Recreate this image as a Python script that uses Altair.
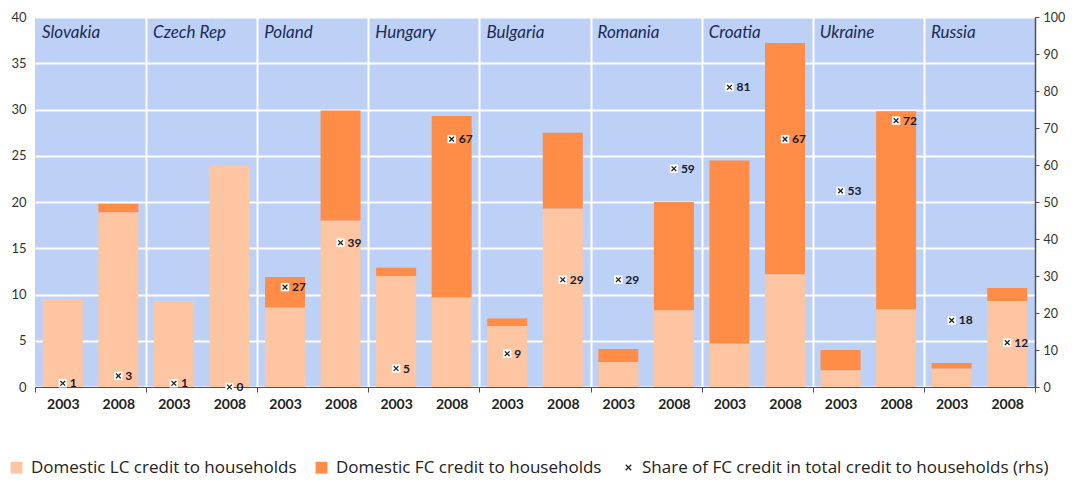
import altair as alt
import pandas as pd

countries = ["Slovakia", "Czech Rep", "Poland", "Hungary", "Bulgaria",
             "Romania", "Croatia", "Ukraine", "Russia"]
years = ["2003", "2008"]
lc_2003 = [9.5, 9.3, 8.6, 12.0, 6.6, 2.7, 4.7, 1.8, 2.0]
fc_2003 = [0.0, 0.0, 3.3, 0.9, 0.8, 1.4, 19.8, 2.2, 0.6]
lc_2008 = [18.9, 24.0, 18.0, 9.7, 19.3, 8.3, 12.2, 8.4, 9.3]
fc_2008 = [0.9, 0.0, 11.9, 19.6, 8.2, 11.7, 25.0, 21.4, 1.4]
share_2003 = [1, 1, 27, 5, 9, 29, 81, 53, 18]
share_2008 = [3, 0, 39, 67, 29, 59, 67, 72, 12]

LC = "Domestic LC credit to households"
FC = "Domestic FC credit to households"
SH = "Share of FC credit in total credit to households (rhs)"

BLUE = "#BDD0F5"
PEACH = "#FDC5A1"
ORANGE = "#FF8C47"
FONT = "Lato"
LFONT = "Open Sans"
CROSS = "M-1,-1L1,1M1,-1L-1,1"

bars, marks = [], []
for i, c in enumerate(countries):
    for j, yr in enumerate(years):
        slot = 2 * i + j
        lc = [lc_2003, lc_2008][j][i]
        fc = [fc_2003, fc_2008][j][i]
        sh = [share_2003, share_2008][j][i]
        bars.append(dict(country=c, year=yr, series=LC, x0=slot + 0.14, x1=slot + 0.86, y0=0, y1=lc))
        bars.append(dict(country=c, year=yr, series=FC, x0=slot + 0.14, x1=slot + 0.86, y0=lc, y1=lc + fc))
        marks.append(dict(country=c, year=yr, xc=slot + 0.5, share=sh, lab=SH, txt=str(sh)))
bars_df = pd.DataFrame(bars)
marks_df = pd.DataFrame(marks)
names_df = pd.DataFrame(dict(country=countries, xl=[2 * i for i in range(len(countries))]))

W, H = 1000, 370
xscale = alt.Scale(domain=[0, 18], nice=False, zero=False)
xvals = [k * 0.5 for k in range(37)]
is_bound = "datum.value % 2 == 0"

x_axis = alt.Axis(
    values=xvals, title=None, grid=True, gridColor="white", gridWidth=2,
    gridOpacity={"condition": {"test": "datum.value % 2 == 0 && datum.value > 0 && datum.value < 18", "value": 1}, "value": 0},
    ticks=True, tickSize=5, tickColor="#4a5060",
    tickOpacity={"condition": {"test": is_bound, "value": 1}, "value": 0},
    domain=True, domainColor="#4a5060", domainWidth=1.2,
    labelExpr="datum.value % 1 == 0 ? '' : (datum.value % 2 < 1 ? '2003' : '2008')",
    labelFont=FONT, labelFontSize=14, labelFontWeight="bold", labelColor="#222",
    labelPadding=5, labelOverlap=False, labelFlush=False,
)
yl_axis = alt.Axis(values=list(range(0, 41, 5)), title=None, grid=True, gridColor="white",
                   gridWidth=2, domain=False, ticks=False, labelPadding=9,
                   labelFont=FONT, labelFontSize=13, labelColor="#333", labelOverlap=False)
r_axis = alt.Axis(orient="right", values=list(range(0, 101, 10)), title=None, grid=False,
                  domain=True, domainColor="#4a5060", domainWidth=1.5, ticks=True, tickSize=4,
                  tickColor="#4a5060", labelPadding=4, labelFont=FONT, labelFontSize=12.5,
                  labelColor="#333", labelOverlap=False)

X = lambda f: alt.X(f, scale=xscale, axis=x_axis, title=None)
yr = alt.Scale(domain=[0, 100], nice=False)
YR = lambda f: alt.Y(f, scale=yr, axis=r_axis, title=None)

bar_layer = alt.Chart(bars_df).mark_bar().encode(
    x=X("x0:Q"),
    x2="x1:Q",
    y=alt.Y("y0:Q", scale=alt.Scale(domain=[0, 40], nice=False), axis=yl_axis, title=None),
    y2="y1:Q",
    color=alt.Color("series:N", scale=alt.Scale(domain=[LC, FC], range=[PEACH, ORANGE]),
                    legend=alt.Legend(orient="none", legendX=-27, legendY=442, direction="horizontal",
                                      title=None, symbolType="square", symbolSize=140,
                                      symbolStrokeWidth=0, labelFont=LFONT, labelFontSize=17,
                                      labelColor="#222", columnPadding=16, labelOffset=6,
                                      padding=0, labelLimit=400)),
)

names_layer = alt.Chart(names_df).mark_text(
    align="left", baseline="alphabetic", dx=7, font=FONT, fontSize=17,
    fontStyle="italic", color="#1b2a5a"
).encode(x=X("xl:Q"), y=alt.value(21), text="country:N")

sq = alt.Chart(marks_df).mark_point(shape="square", filled=True, color="white", opacity=1, size=70).encode(
    x=X("xc:Q"),
    y=YR("share:Q"),
)
cross = alt.Chart(marks_df).mark_point(filled=False, color="#222", strokeWidth=1.3, size=22, opacity=1).encode(
    x=X("xc:Q"),
    y=YR("share:Q"),
    shape=alt.Shape("lab:N", scale=alt.Scale(domain=[SH], range=[CROSS]),
                    legend=alt.Legend(orient="none", legendX=585, legendY=442, title=None,
                                      symbolStrokeColor="#222", symbolStrokeWidth=1.3,
                                      symbolSize=30, labelFont=LFONT, labelFontSize=17,
                                      labelColor="#222", labelOffset=5, padding=0, labelLimit=500)),
)
txt = alt.Chart(marks_df).mark_text(align="left", baseline="middle", dx=7, font=FONT, fontSize=12,
                                    fontWeight="bold", color="#1a1a2e").encode(
    x=X("xc:Q"),
    y=YR("share:Q"),
    text="txt:N",
)

chart = alt.layer(bar_layer, names_layer, alt.layer(sq, cross, txt)).resolve_scale(
    y="independent"
).properties(
    width=W, height=H,
    autosize=alt.AutoSizeParams(type="none"),
    padding={"left": 27, "top": 9, "right": 34, "bottom": 91},
).configure_view(fill=BLUE, stroke=None)

chart.save("out.html", embed_options={"renderer": "svg", "actions": False})
